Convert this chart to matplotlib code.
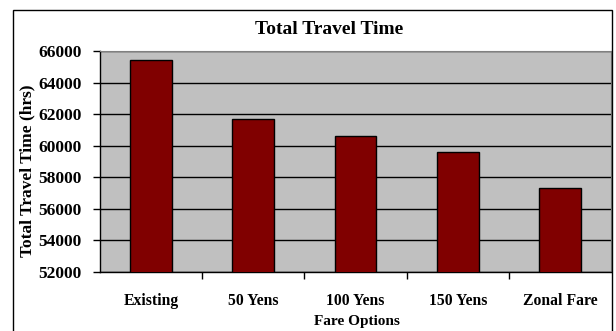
import matplotlib.pyplot as plt
from matplotlib.patches import Rectangle

categories = ["Existing", "50 Yens", "100 Yens", "150 Yens", "Zonal Fare"]
travel_time = [65400, 61700, 60600, 59600, 57300]
y_ticks = [52000, 54000, 56000, 58000, 60000, 62000, 64000, 66000]

plt.rcParams["font.family"] = ["Liberation Serif", "DejaVu Serif"]
plt.rcParams["font.weight"] = "bold"

W, H = 616, 331
fig = plt.figure(figsize=(W / 100, H / 100), dpi=100)

# plot area in pixel coordinates
left, right, top, bottom = 100, 611, 51, 272
ax = fig.add_axes([left / W, (H - bottom) / H, (right - left) / W, (bottom - top) / H])
ax.set_facecolor("#C0C0C0")

x = range(len(categories))
ax.bar(x, travel_time, width=0.41, color="#800000", edgecolor="black", linewidth=1, zorder=3)

ax.set_xlim(-0.5, len(categories) - 0.5)
ax.set_ylim(52000, 66000)
ax.set_yticks(y_ticks)
ax.set_yticklabels([str(v) for v in y_ticks], fontsize=12.5, fontweight="bold")
ax.set_xticks(x)
ax.set_xticklabels(categories, fontsize=11.3, fontweight="bold")
ax.tick_params(axis="x", length=0, pad=15)
ax.tick_params(axis="y", length=5, width=1, pad=8)
# minor ticks at category boundaries
ax.set_xticks([i + 0.5 for i in range(len(categories) - 1)], minor=True)
ax.tick_params(axis="x", which="minor", length=5, width=1)

ax.yaxis.grid(True, color="black", linewidth=1, zorder=1)
ax.set_axisbelow(True)

for s in ["top", "right"]:
    ax.spines[s].set_color("#808080")
ax.spines["left"].set_linewidth(1)
ax.spines["bottom"].set_linewidth(1)

fig.text(357 / W, 1 - 322 / H, "Fare Options", fontsize=11, fontweight="bold",
         ha="center", va="center")
fig.text(27 / W, 1 - 171 / H, "Total Travel Time (hrs)", rotation=90, fontsize=12.5,
         fontweight="bold", ha="center", va="center")
fig.text(329 / W, 1 - 30 / H, "Total Travel Time", fontsize=14, fontweight="bold",
         ha="center", va="center")

# outer chart border
fig.patches.append(Rectangle((13 / W, -0.1), (612 - 13) / W, 1.1 - 10 / H,
                             transform=fig.transFigure, fill=False,
                             edgecolor="black", linewidth=1))

plt.savefig("out.png", dpi=100)
